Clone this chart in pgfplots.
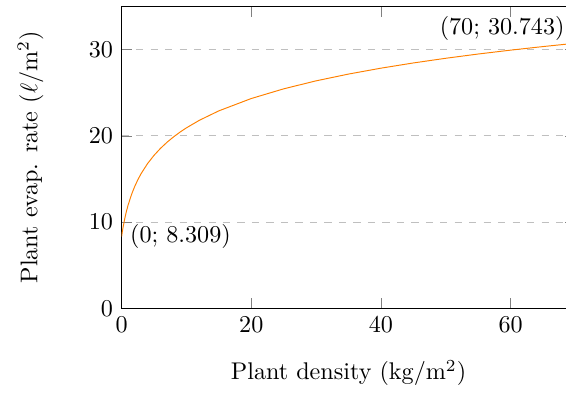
\documentclass[border={4pt 2pt -4.1pt 2.5pt}]{standalone}
\usepackage{pgfplots}
\pgfplotsset{compat=1.18}
\begin{document}
\begin{tikzpicture}
\begin{axis}[
  scale only axis,
  width=188pt, height=125pt,
  xmin=0, xmax=70, ymin=0, ymax=35,
  xtick={0,20,40,60}, ytick={0,10,20,30},
  ymajorgrids, grid style={dashed, gray!50},
  xlabel={Plant density (kg/m$^2$)},
  ylabel={Plant evap. rate ($\ell$/m$^2$)},
  xlabel style={yshift=-4.7pt},
  ylabel style={yshift=12pt},
  clip=true,
]
\addplot[orange, thin, no marks] coordinates {
(0,8.309) (0.1,8.811) (0.25,9.483) (0.5,10.443) (0.75,11.254) (1,11.956)
(1.5,13.131) (2,14.090) (2.5,14.901) (3,15.604) (4,16.778) (5,17.737)
(6,18.548) (7,19.251) (8,19.871) (9,20.425) (10,20.927) (12,21.806)
(15,22.899) (20,24.329) (25,25.453) (30,26.379) (35,27.166) (40,27.850)
(45,28.455) (50,28.998) (55,29.491) (60,29.941) (65,30.355) (70,30.743)
};
\node[anchor=west] at (axis cs:0,8.309) {(0; 8.309)};
\node[anchor=south east, yshift=-2.5pt, xshift=-1pt] at (axis cs:70,30.743) {(70; 30.743)};
\end{axis}
\end{tikzpicture}
\end{document}
